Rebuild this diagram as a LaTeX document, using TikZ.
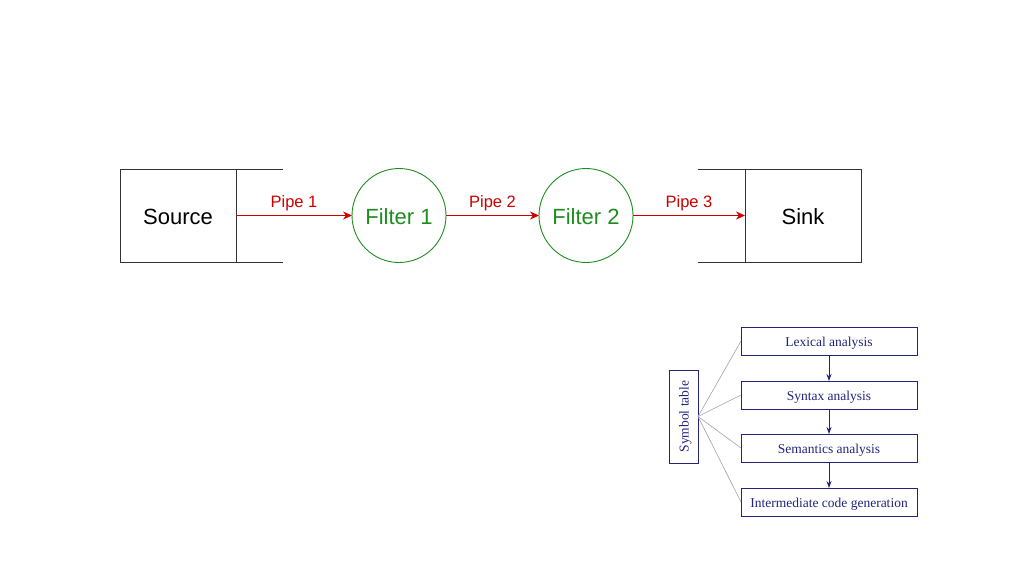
\documentclass[tikz,border=0pt]{standalone}
\usepackage{fontspec}
\setmainfont{Liberation Serif}
\setsansfont{Liberation Sans}
\usetikzlibrary{positioning,arrows.meta}
\definecolor{pipecolor}{HTML}{CC0000}
\definecolor{filtercolor}{HTML}{1E8C1E}
\definecolor{phasecolor}{HTML}{23237D}
\definecolor{tablelinecolor}{HTML}{A0A0B4}

\begin{document}
\begin{tikzpicture}[x=1pt, y=-1pt, >=Stealth,
    every node/.style={outer sep=0pt},
    stagebox/.style={draw=black!80, line width=0.9pt, minimum width=116pt, minimum height=93pt, inner sep=0pt, text height=18.5pt, text depth=0pt, font=\sffamily\fontsize{22}{26}\selectfont},
    stageline/.style={draw=black!80, line width=0.9pt},
    filter/.style={circle, draw=filtercolor, line width=0.9pt, minimum size=94pt, inner sep=0pt, text height=18.5pt, text depth=0pt, text=filtercolor, font=\sffamily\fontsize{22}{26}\selectfont},
    pipe/.style={-{Stealth[length=9pt,width=8pt]}, draw=pipecolor, line width=0.9pt},
    pipelabel/.style={above=1pt, text=pipecolor, font=\sffamily\fontsize{16.5}{20}\selectfont},
    phase/.style={draw=phasecolor, line width=0.8pt, minimum width=176pt, minimum height=28pt, inner sep=0pt, text height=13pt, text depth=3pt, text=phasecolor, font=\fontsize{13.5}{16}\selectfont},
    phasearrow/.style={-{Stealth[length=7pt,width=5pt]}, draw=phasecolor, line width=0.8pt},
    tableline/.style={draw=tablelinecolor, line width=0.6pt}]
  \useasboundingbox (0,0) rectangle (1024,576);

  % pipe and filter chain
  \node[stagebox] (src) at (178,215.5) {Source};
  \node[filter, right=116pt of src] (f1) {Filter 1};
  \node[filter, right=93pt of f1] (f2) {Filter 2};
  \node[stagebox, right=112pt of f2] (sink) {Sink};
  \draw[stageline] (src.north east) -- ++(47,0);
  \draw[stageline] (src.south east) -- ++(47,0);
  \draw[stageline] (sink.north west) -- ++(-47,0);
  \draw[stageline] (sink.south west) -- ++(-47,0);
  \draw[pipe] (src) -- node[pipelabel] {Pipe 1} (f1);
  \draw[pipe] (f1) -- node[pipelabel] {Pipe 2} (f2);
  \draw[pipe] (f2) -- node[pipelabel] {Pipe 3} (sink);

  % compiler phases
  \node[phase] (lex) at (829,341) {Lexical analysis};
  \node[phase, below=26pt of lex] (syn) {Syntax analysis};
  \node[phase, below=25pt of syn] (sem) {Semantics analysis};
  \node[phase, below=26pt of sem] (icg) {Intermediate code generation};
  \node[phase, rotate=90, minimum width=93pt, minimum height=29pt] (sym) at (683.5,416.5) {Symbol table};
  \draw[phasearrow] (lex) -- (syn);
  \draw[phasearrow] (syn) -- (sem);
  \draw[phasearrow] (sem) -- (icg);
  \foreach \p in {lex,syn,sem,icg}
    \draw[tableline] (sym.south) -- (\p.west);
\end{tikzpicture}
\end{document}
